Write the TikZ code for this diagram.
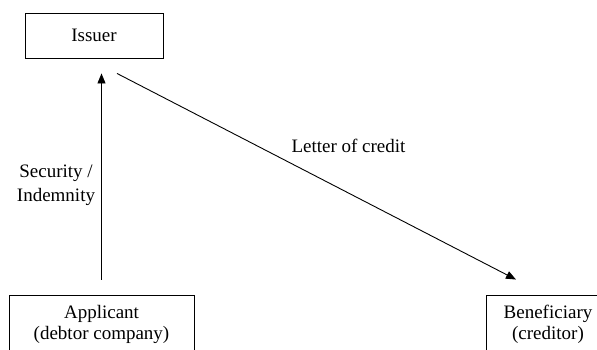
\documentclass[tikz,border=0pt]{standalone}
\usepackage{fontspec}
\setmainfont{Liberation Serif}
\usetikzlibrary{arrows.meta}

\begin{document}
\begin{tikzpicture}[x=1pt,y=-1pt,line width=0.9pt,
  party/.style={draw,rectangle,inner sep=0pt,align=center,font=\fontsize{19}{21}\selectfont},
  lbl/.style={align=center,inner sep=0pt,font=\fontsize{19}{24}\selectfont},
  arr/.style={-{Triangle[length=10pt,width=8pt]}}]
\useasboundingbox (0,0) rectangle (597,349);
\node[party,minimum width=138,minimum height=45] (issuer) at (94,35.5) {Issuer};
\node[party,minimum width=185,minimum height=58] (applicant) at (101.5,324) {Applicant\\(debtor company)};
\node[party,minimum width=124,minimum height=58] (beneficiary) at (548,324) {Beneficiary\\(creditor)};
%\draw (0,0) rectangle (597,349);
\draw[arr,shorten <=15pt,shorten >=15pt] (applicant.north) -- (applicant.north |- issuer.south);
\draw[arr] ([shift={(23,15)}]issuer.south) -- ([shift={(-32,-15)}]beneficiary.north);
\node[lbl] (security) at (56,185) {Security /\\Indemnity};
\node[lbl] (loc) at (348.5,146) {Letter of credit};
\end{tikzpicture}
\end{document}
